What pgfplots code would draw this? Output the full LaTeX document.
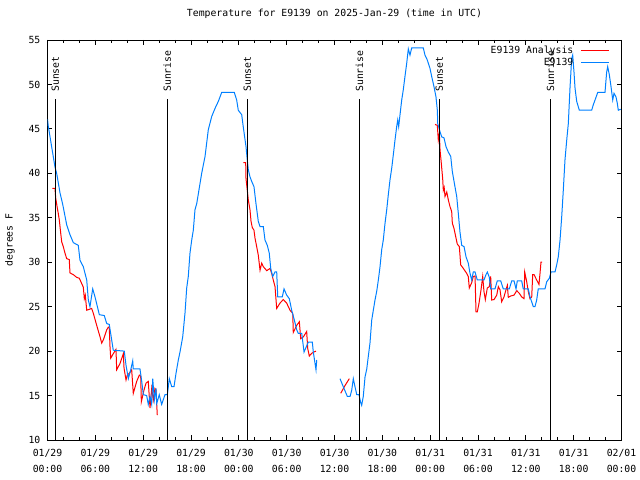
\documentclass[border=0pt]{standalone}
\usepackage{pgfplots}
\pgfplotsset{compat=1.18}
\usepackage{fontspec}
\setmainfont{DejaVu Sans Mono}
\definecolor{obsblue}{RGB}{0,128,255}
\definecolor{anared}{RGB}{255,0,0}
\newcommand{\gf}{\fontsize{9.8bp}{12bp}\selectfont}
\begin{document}
\begin{tikzpicture}[font=\gf]
\path[use as bounding box] (0,0) rectangle (640bp,480bp);
\begin{axis}[
  at={(47.5bp,40bp)}, anchor=south west,
  scale only axis, width=574bp, height=400bp,
  xmin=0, xmax=72, ymin=10, ymax=55,
  xtick={0,6,...,72},
  xticklabels={{01/29\\00:00},{01/29\\06:00},{01/29\\12:00},{01/29\\18:00},{01/30\\00:00},{01/30\\06:00},{01/30\\12:00},{01/30\\18:00},{01/31\\00:00},{01/31\\06:00},{01/31\\12:00},{01/31\\18:00},{02/01\\00:00}},
  minor x tick num=2,
  ytick={10,15,...,55},
  tick align=inside,
  major tick length=5bp, minor tick length=3bp,
  every tick/.style={black, line width=0.8bp},
  axis line style={line width=0.8bp},
  /pgf/number format/assume math mode=true,
  xticklabel style={align=center, font=\fontsize{9.8bp}{16.5bp}\selectfont, inner sep=0pt, yshift=-9bp},
  yticklabel style={font=\gf, inner sep=0pt, xshift=-7bp},
  title={Temperature for E9139 on 2025-Jan-29 (time in UTC)},
  title style={at={(0.5,1)}, anchor=center, yshift=20bp, inner sep=0pt, font=\gf},
  ylabel={degrees F},
  ylabel style={at={(axis description cs:-0.0653,0.5)}, anchor=center, inner sep=0pt, font=\gf},
  unbounded coords=jump,
  legend plot pos=right,
  legend cell align=right,
  legend style={draw=none, fill=none, at={(1,1)}, anchor=north east, xshift=-9bp, yshift=-3bp, font=\gf, row sep=1bp, column sep=6bp, nodes={inner sep=1bp}},
  legend image code/.code={\draw[#1] (0bp,0bp) -- (28bp,0bp);},
]
\addplot[anared, line width=1bp] coordinates {
(0.6,38.3)(0.94,38.3)(1.03,37.2)(1.25,36)(1.35,35.5)(1.48,34.75)(1.66,33.25)(1.78,32.3)(1.98,31.75)(2.2,31)(2.41,30.4)(2.73,30.3)(2.82,28.8)(3.24,28.6)(3.66,28.3)(3.99,28.2)(4.29,27.6)(4.49,27.2)(4.62,25.9)(4.74,26.3)(4.92,24.6)(5.54,24.8)(5.75,24.25)(6.17,22.9)(6.59,21.6)(6.8,20.9)(7.0,21.25)(7.43,22.4)(7.63,22.7)(7.75,22.6)(7.84,20.5)(7.93,19.2)(8.18,19.6)(8.59,20.2)(8.68,17.9)(9.09,18.6)(9.51,19.7)(9.6,18.1)(9.85,16.75)(10.01,17.3)(10.26,17.5)(10.56,17.9)(10.76,15.25)(11.19,16.6)(11.52,17.3)(11.69,17.2)(11.77,14.3)(12.1,15.6)(12.36,16.4)(12.64,16.6)(12.86,13.6)(13.07,15.8)(13.27,14.5)(13.48,15.8)(13.61,15.6)(13.77,12.8)
(18,nan)
(24.56,41.2)(24.86,41.2)(24.9,39.4)(25.06,38.1)(25.19,37)(25.4,35.9)(25.53,34.6)(25.69,33.9)(25.9,33.6)(26.03,32.7)(26.24,31.75)(26.44,30.8)(26.66,29.1)(26.87,29.9)(27.07,29.5)(27.5,29.05)(27.91,29.3)(28.12,28.75)(28.32,28)(28.54,27.25)(28.75,24.8)(29.16,25.4)(29.58,25.8)(30.0,25.4)(30.42,24.6)(30.76,24.25)(30.83,22.1)(31.26,22.9)(31.59,23.3)(31.76,21.4)(32.09,21.6)(32.51,22.2)(32.64,20.3)(32.84,19.45)(33.14,19.75)(33.43,19.9)(33.68,20)
(35,nan)
(36.78,15.25)(37.3,16.1)(37.86,16.9)
(40,nan)
(48.61,45.5)(48.9,45.4)(49.02,43.75)(49.15,44.5)(49.24,42.6)(49.36,41.5)(49.57,39.4)(49.65,38.1)(49.76,38.4)(49.86,37.4)(50.08,37.9)(50.28,37)(50.49,36.25)(50.7,35.7)(50.78,34.4)(50.99,33.8)(51.2,32.9)(51.4,32.05)(51.66,31.75)(51.83,29.7)(52.16,29.3)(52.58,28.75)(52.78,28.4)(52.91,27.1)(53.21,27.7)(53.41,28.4)(53.63,28.45)(53.75,24.4)(53.91,24.4)(54.13,25.4)(54.38,26.9)(54.59,28.4)(54.75,26.7)(54.92,25.8)(55.17,27.1)(55.42,27.25)(55.59,28.4)(55.72,25.75)(56.01,25.8)(56.35,26.3)(56.55,27.25)(56.76,26.9)(56.97,25.55)(57.26,26.1)(57.51,26.9)(57.68,27.4)(57.8,26.05)(58.1,26.2)(58.52,26.3)(58.86,26.8)(59.18,26.5)(59.48,26.1)(59.77,25.9)(59.86,28.9)(60.11,27.8)(60.31,26.7)(60.52,25.9)(60.74,26.1)(60.86,28.6)(61.03,28.6)(61.36,28)(61.65,27.5)(61.78,28.75)(61.9,30)(62.03,30)
};
\addlegendentry{E9139 Analysis}
\addplot[obsblue, line width=1bp] coordinates {
(0,46.1)(0.1,45.3)(0.94,40.7)(1.15,40)(1.57,37.8)(1.91,36.5)(2.41,34.2)(2.82,33.1)(3.24,32.2)(3.86,31.9)(4.08,30.2)(4.49,29.5)(4.92,28)(5.12,25.75)(5.33,25)(5.67,27)(5.96,26.1)(6.5,24.1)(7.12,24)(7.43,23.1)(7.75,23)(8.25,20.1)(9.63,20)(9.85,18.4)(10.14,16.9)(10.44,17.9)(10.69,18.9)(10.76,18)(11.6,18)(11.82,16.6)(12.02,15.1)(12.44,15)(12.64,14)(12.86,14.9)(13.07,14)(13.2,16.9)(13.4,14.5)(13.61,15.8)(13.7,14.1)(14.02,15.1)(14.32,14)(14.74,15.1)(15.03,15.1)(15.28,16.9)(15.58,16)(15.87,16)(16.12,17.5)(16.41,19)(16.62,19.9)(16.96,21.6)(17.25,24.3)(17.46,27.1)(17.66,28.4)(17.87,31)(18.09,32.5)(18.29,33.6)(18.5,35.9)(18.72,36.6)(19.34,40)(19.76,41.9)(20.17,44.9)(20.6,46.4)(21.01,47.3)(21.43,48.1)(21.85,49.1)(23.43,49.1)(23.73,48.25)(23.93,47.1)(24.36,46.6)(24.56,45.2)(24.9,43)(25.06,41.5)(25.19,40.4)(25.4,39.6)(25.61,39.1)(25.9,38.5)(26.15,36.6)(26.44,34.6)(26.66,34)(27.07,34)(27.28,32.5)(27.57,31.9)(27.82,31)(28.0,29.3)(28.25,28.4)(28.54,28.9)(28.75,28.9)(28.88,26.1)(29.45,26.1)(29.67,27)(30.0,26.3)(30.33,25.9)(30.63,24.6)(30.96,23.5)(31.26,22.4)(31.46,22)(31.89,22)(32.18,19.9)(32.71,21)(33.22,21)(33.34,19.9)(33.68,17.9)(33.77,19)
(35,nan)
(36.69,16.9)(37.1,16)(37.61,14.9)(37.95,14.9)(38.16,15.6)(38.36,16.9)(38.57,16)(38.79,15.1)(39.07,15.1)(39.29,14.2)(39.41,13.9)(39.61,14.9)(39.83,17.1)(40.04,17.95)(40.24,19.4)(40.45,20.9)(40.67,23.5)(40.87,24.6)(41.08,25.75)(41.29,26.7)(41.5,28)(41.71,29.5)(41.92,31.4)(42.12,32.5)(42.34,34.4)(42.55,35.9)(42.75,37.6)(42.96,39.25)(43.18,40.6)(43.38,42.1)(43.59,43.75)(43.8,45.25)(43.93,46)(44.05,45.25)(44.22,46.6)(44.43,48.25)(44.63,49.4)(44.84,50.9)(45.06,52.4)(45.26,54)(45.47,53.3)(45.68,54.1)(47.14,54.1)(47.35,53.3)(47.64,52.75)(47.98,51.8)(48.19,50.9)(48.48,49.75)(48.73,48.6)(48.9,47.1)(48.95,45.6)(49.23,44.7)(49.45,44.1)(49.73,44)(49.99,43)(50.27,42.4)(50.58,41.9)(50.78,40.2)(51.11,38.5)(51.33,37.4)(51.53,35.5)(51.74,33.4)(51.96,31.9)(52.25,31.75)(52.5,30.6)(52.78,29.9)(53.0,28.75)(53.21,28)(53.41,28.9)(53.63,28.9)(53.91,28)(54.75,28)(55.0,28.6)(55.17,28.9)(55.42,28.3)(55.59,27)(56.13,27)(56.42,27.9)(56.85,27.9)(57.17,27)(57.93,27)(58.23,27.9)(58.52,27.9)(58.77,27)(58.93,27.9)(59.48,27.9)(59.68,27)(60.31,27)(60.52,26.1)(60.94,25)(61.15,25)(61.36,25.75)(61.56,27)(62.4,27)(62.62,27.8)(62.95,28.2)(63.16,28.9)(63.66,28.9)(63.87,29.7)(64.07,30.6)(64.29,32.5)(64.5,35.1)(64.7,38.1)(64.91,41.5)(65.13,43.75)(65.33,45.6)(65.54,49.6)(65.75,52.9)(65.88,53.3)(66.04,51.4)(66.17,49.6)(66.38,48.1)(66.71,47.1)(68.26,47.1)(68.46,47.7)(68.68,48.25)(69.02,49.1)(69.93,49.1)(70.14,51.4)(70.27,52)(70.47,51.1)(70.65,50)(70.9,48.25)(71.06,49)(71.31,48.6)(71.47,47.9)(71.6,47.1)(71.9,47.2)
};
\addlegendentry{E9139}
% sunrise / sunset lines
\addplot[black, line width=1bp, forget plot] coordinates {(0.98,10)(0.98,48.4)};
\addplot[black, line width=1bp, forget plot] coordinates {(15.03,10)(15.03,48.4)};
\addplot[black, line width=1bp, forget plot] coordinates {(25.07,10)(25.07,48.4)};
\addplot[black, line width=1bp, forget plot] coordinates {(39.12,10)(39.12,48.4)};
\addplot[black, line width=1bp, forget plot] coordinates {(49.16,10)(49.16,48.4)};
\addplot[black, line width=1bp, forget plot] coordinates {(63.09,10)(63.09,48.4)};
\node[rotate=90, anchor=west, inner sep=0pt, font=\gf] at (axis cs:0.98,49.15) {Sunset};
\node[rotate=90, anchor=west, inner sep=0pt, font=\gf] at (axis cs:15.03,49.15) {Sunrise};
\node[rotate=90, anchor=west, inner sep=0pt, font=\gf] at (axis cs:25.07,49.15) {Sunset};
\node[rotate=90, anchor=west, inner sep=0pt, font=\gf] at (axis cs:39.12,49.15) {Sunrise};
\node[rotate=90, anchor=west, inner sep=0pt, font=\gf] at (axis cs:49.16,49.15) {Sunset};
\node[rotate=90, anchor=west, inner sep=0pt, font=\gf] at (axis cs:63.09,49.15) {Sunrise};
\end{axis}
\end{tikzpicture}
\end{document}
